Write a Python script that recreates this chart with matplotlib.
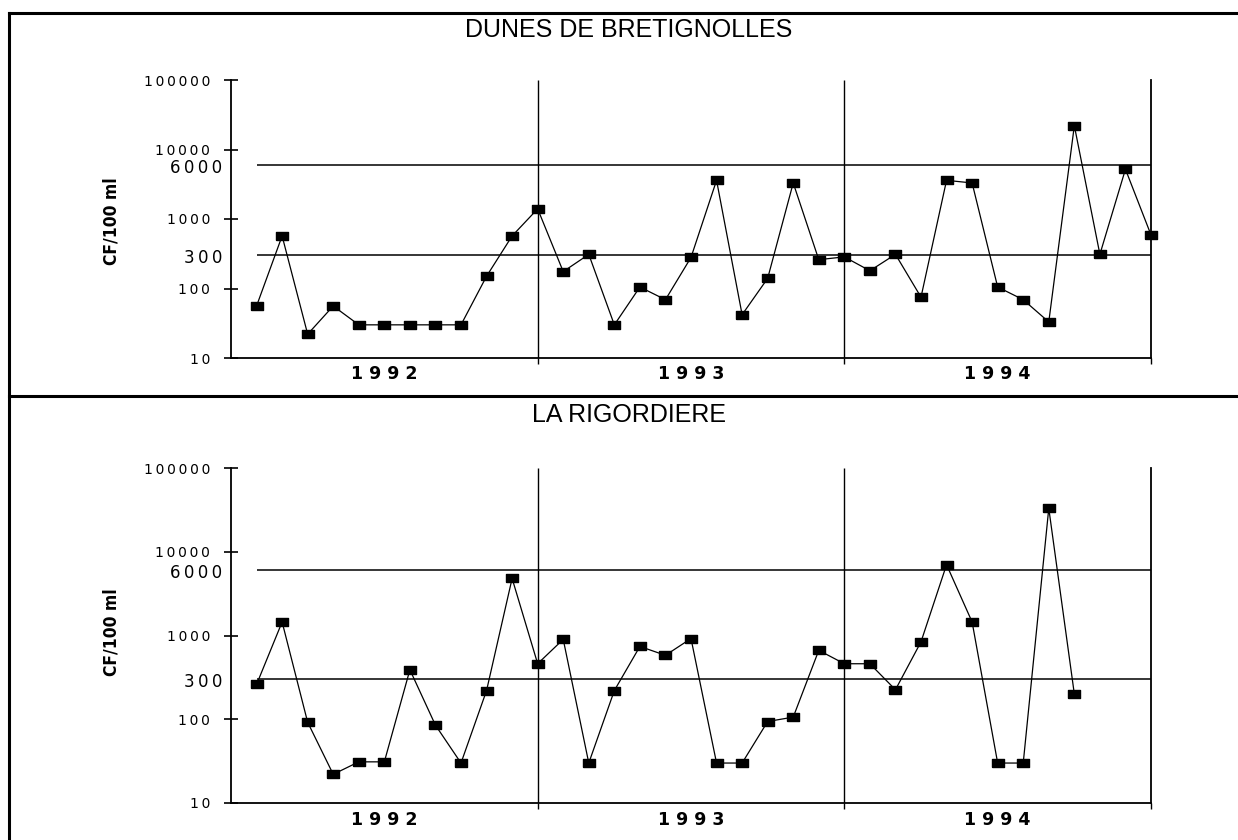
import numpy as np
import matplotlib
matplotlib.use("Agg")
import matplotlib.pyplot as plt
from matplotlib.lines import Line2D
from matplotlib.ticker import NullLocator

W, H = 1238, 840

# coliformes fecaux (CF/100 ml), un prelevement par mois, 1992 a 1994
mois = np.arange(1, 37)
bretignolles = [56, 570, 22, 56, 30, 30, 30, 30, 30, 150, 570, 1400,
                175, 310, 30, 105, 69, 280, 3600, 42, 140, 3300, 260, 285,
                180, 310, 75, 3600, 3300, 105, 69, 33, 22000, 310, 5200, 590]
rigordiere = [260, 1450, 92, 22, 31, 31, 390, 85, 30, 220, 4800, 460,
              900, 30, 220, 740, 580, 920, 30, 30, 94, 106, 665, 460,
              460, 225, 840, 7000, 1450, 30, 30, 33000, 200]
annees = ["1 9 9 2", "1 9 9 3", "1 9 9 4"]
centres_annees = [6, 18, 30]
seuils = [300, 6000]
graduations = [10, 100, 1000, 10000, 100000]

ESP = "\u2009"  # espace fine entre les chiffres
CARRE = [(-1, -0.72), (1, -0.72), (1, 0.72), (-1, 0.72), (-1, -0.72)]


def espace(v):
    return ESP.join(str(v))


def fx(px):
    return px / W


def fy(py):
    return 1 - py / H


fig = plt.figure(figsize=(W / 100, H / 100), dpi=100)
fig.patch.set_facecolor("white")


def panneau(haut, bas, titre, y_titre, y_label, valeurs):
    ax = fig.add_axes([fx(231), fy(bas), fx(1151) - fx(231), fy(haut) - fy(bas)])
    ax.set_yscale("log")
    ax.set_ylim(10, 100000)
    ax.set_xlim(0, 36)
    ax.yaxis.set_minor_locator(NullLocator())

    ax.hlines(seuils, 1, 36, color="black", lw=1.1, zorder=2)
    ax.vlines([12, 24], 10, 100000, color="black", lw=1.0, zorder=2)
    ax.plot(mois[:len(valeurs)], valeurs, color="black", lw=0.9,
            marker=CARRE, ms=8, mfc="black", mec="black", clip_on=False, zorder=5)

    ax.spines["top"].set_visible(False)
    for s in ["left", "bottom", "right"]:
        ax.spines[s].set_linewidth(1.3)

    ax.set_yticks(graduations)
    ax.set_yticklabels([espace(g) for g in graduations], fontsize=10,
                       family="DejaVu Sans")
    ax.tick_params(axis="y", direction="inout", length=10, width=1.2, pad=10)
    ax.set_xticks([12, 24, 36])
    ax.set_xticklabels([])
    ax.tick_params(axis="x", direction="out", length=4, width=1.0)

    # valeurs seuils reportees a gauche de l'axe
    for v in seuils:
        ax.annotate(espace(v), xy=(0, v), xycoords=ax.get_yaxis_transform(),
                    xytext=(-6.5, -2), textcoords="offset points",
                    ha="right", va="center", fontsize=12, family="DejaVu Sans")

    for c, a in zip(centres_annees, annees):
        ax.text(c, -0.025, a, transform=ax.get_xaxis_transform(),
                ha="center", va="top", fontsize=12.5, fontweight="bold",
                family="DejaVu Sans")

    fig.text(fx(629), fy(y_titre), titre, ha="center", va="center",
             fontsize=18, family="Liberation Sans")
    fig.text(fx(112), fy(y_label), "CF/100 ml", rotation=90,
             ha="center", va="center", fontsize=12.5, fontweight="bold",
             family="DejaVu Sans", fontstretch="condensed")
    return ax


panneau(80, 358, "DUNES DE BRETIGNOLLES", 30, 221, bretignolles)
panneau(468, 803, "LA RIGORDIERE", 415, 632, rigordiere)

# cadre autour des deux graphiques
for (x0, y0, x1, y1) in [(9, 13, 1238, 13), (9, 396, 1238, 396), (9, 13, 9, 840)]:
    fig.add_artist(Line2D([fx(x0), fx(x1)], [fy(y0), fy(y1)],
                          transform=fig.transFigure, color="black", lw=2.2))

fig.savefig("out.png", dpi=100)
